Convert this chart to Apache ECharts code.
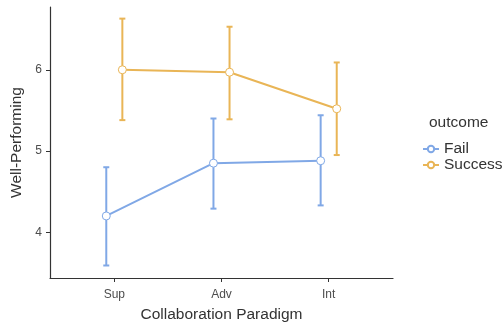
<!DOCTYPE html>
<html>
<head>
<meta charset="utf-8">
<script src="https://cdn.jsdelivr.net/npm/echarts@6/dist/echarts.min.js"></script>
<style>html,body{margin:0;padding:0;background:#fff;}#c{width:502px;height:328px;}</style>
</head>
<body>
<div id="c"></div>
<script>
var categories = ['Sup', 'Adv', 'Int'];
var failMean = [4.20, 4.85, 4.88];
var failLow = [3.59, 4.29, 4.33];
var failHigh = [4.80, 5.40, 5.44];
var successMean = [6.00, 5.97, 5.52];
var successLow = [5.38, 5.39, 4.95];
var successHigh = [6.63, 6.53, 6.09];
var yTicks = [4, 5, 6];

var FAIL = '#80a8e6', SUCC = '#e9b556';
var dodge = 0.075;

function pts(mean, off) {
  return mean.map(function (v, i) { return [i + 1 + off, v]; });
}
function bars(low, high, off) {
  return low.map(function (v, i) { return [i + 1 + off, v, high[i]]; });
}
function errRender(color) {
  return function (params, api) {
    var x = api.value(0);
    var lo = api.coord([x, api.value(1)]);
    var hi = api.coord([x, api.value(2)]);
    var hw = 3;
    var st = { stroke: color, lineWidth: 2 };
    return {
      type: 'group',
      children: [
        { type: 'line', shape: { x1: lo[0], y1: lo[1], x2: hi[0], y2: hi[1] }, style: st },
        { type: 'line', shape: { x1: lo[0] - hw, y1: lo[1], x2: lo[0] + hw, y2: lo[1] }, style: st },
        { type: 'line', shape: { x1: hi[0] - hw, y1: hi[1], x2: hi[0] + hw, y2: hi[1] }, style: st }
      ]
    };
  };
}

var chart = echarts.init(document.getElementById('c'));
var FONT = 'Liberation Sans';
chart.setOption({
  animation: false,
  textStyle: { fontFamily: FONT },
  grid: { left: 50, right: 109, top: 7, bottom: 49 },
  xAxis: {
    type: 'value', min: 0.4, max: 3.6,
    name: 'Collaboration Paradigm', nameLocation: 'middle', nameGap: 29,
    nameTextStyle: { fontSize: 15.5, color: '#333', fontFamily: FONT },
    axisLine: { show: true, onZero: false, lineStyle: { color: '#333', width: 1.2 } },
    axisTick: { show: true, length: 4, lineStyle: { color: '#333' }, customValues: [1, 2, 3] },
    axisLabel: { fontSize: 12, color: '#4d4d4d', margin: 11, customValues: [1, 2, 3],
      formatter: function (v) { return categories[Math.round(v) - 1] || ''; } },
    splitLine: { show: false }
  },
  yAxis: {
    type: 'value', min: 3.436, max: 6.773,
    name: 'Well-Performing', nameLocation: 'middle', nameGap: 24,
    nameTextStyle: { fontSize: 15.5, color: '#333', fontFamily: FONT },
    axisLine: { show: true, onZero: false, lineStyle: { color: '#333', width: 1.2 } },
    axisTick: { show: true, length: 4, lineStyle: { color: '#333' }, customValues: yTicks },
    axisLabel: { fontSize: 12, color: '#4d4d4d', margin: 8, customValues: yTicks },
    splitLine: { show: false }
  },
  legend: {
    left: 417, top: 136, orient: 'vertical', itemWidth: 16, itemHeight: 8, itemGap: 0,
    textStyle: { fontSize: 15.5, color: '#333', fontFamily: FONT },
    data: ['Fail', 'Success']
  },
  graphic: [{ type: 'text', left: 429, top: 115, style: { text: 'outcome', fontSize: 15.5, fill: '#333', fontFamily: FONT } }],
  series: [
    { type: 'custom', name: 'FailErr', renderItem: errRender(FAIL), data: bars(failLow, failHigh, -dodge), z: 1 },
    { type: 'custom', name: 'SuccErr', renderItem: errRender(SUCC), data: bars(successLow, successHigh, dodge), z: 1 },
    { type: 'line', name: 'Fail', data: pts(failMean, -dodge), z: 3, symbol: 'circle', symbolSize: 8,
      lineStyle: { color: FAIL, width: 2 }, itemStyle: { color: '#fff', borderColor: FAIL, borderWidth: 1 } },
    { type: 'line', name: 'Success', data: pts(successMean, dodge), z: 3, symbol: 'circle', symbolSize: 8,
      lineStyle: { color: SUCC, width: 2 }, itemStyle: { color: '#fff', borderColor: SUCC, borderWidth: 1 } }
  ]
});
</script>
</body>
</html>
